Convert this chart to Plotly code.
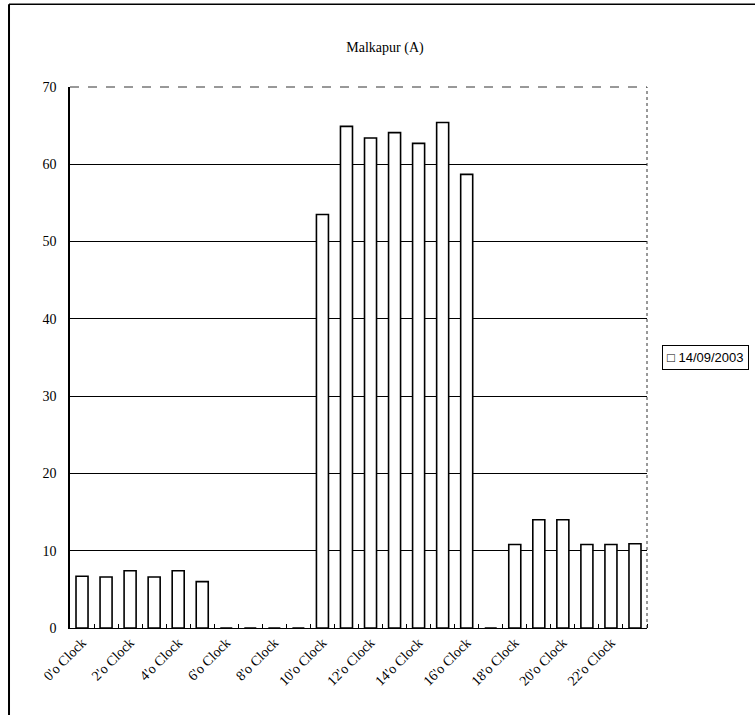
import plotly.graph_objects as go

# Hourly load readings for Malkapur (A), 14/09/2003
hours = [f"{h}'o Clock" for h in range(24)]
load_values = [6.7, 6.6, 7.4, 6.6, 7.4, 6.0,
               0, 0, 0, 0,
               53.5, 64.9, 63.4, 64.1, 62.7, 65.4, 58.7,
               0,
               10.8, 14.0, 14.0, 10.8, 10.8, 10.9]
series_name = "14/09/2003"
y_ticks = [0, 10, 20, 30, 40, 50, 60, 70]

idx = list(range(len(hours)))
label_idx = idx[::2]
label_text = [hours[i] for i in label_idx]

fig = go.Figure()
fig.add_trace(go.Bar(
    x=idx, y=load_values, name=series_name,
    marker=dict(color="white", line=dict(color="black", width=1.6)),
    showlegend=False,
))

serif = "Liberation Serif, Times New Roman, serif"

# plot-area frame: top and right edges drawn dashed, outer chart border on top/left
shapes = [
    dict(type="line", xref="x domain", yref="y domain", x0=0, x1=1, y0=1, y1=1,
         line=dict(color="#333", width=1, dash="dash")),
    dict(type="line", xref="x domain", yref="y domain", x0=1, x1=1, y0=0, y1=1,
         line=dict(color="#333", width=1, dash="dot")),
    dict(type="line", xref="paper", yref="paper", x0=-0.1057, x1=1.25, y0=1.153, y1=1.153,
         line=dict(color="black", width=1.5)),
    dict(type="line", xref="paper", yref="paper", x0=-0.1057, x1=-0.1057, y0=1.153, y1=-0.17,
         line=dict(color="black", width=2)),
]

# compact series key placed just right of the plot area
key = dict(
    text="\u25a1 " + series_name, showarrow=False,
    xref="paper", yref="paper", x=(662 - 70) / 577, y=(628 - 357) / 541,
    xanchor="left", yanchor="middle", align="left",
    font=dict(family="Liberation Sans, Arial, sans-serif", size=13, color="black"),
    bordercolor="black", borderwidth=1, borderpad=4, bgcolor="white",
)

fig.update_layout(
    width=755, height=715,
    margin=dict(l=70, r=108, t=87, b=87),
    paper_bgcolor="white", plot_bgcolor="white",
    bargap=0.5,
    title=dict(text="Malkapur (A)", x=385 / 755, xanchor="center",
               y=1 - 47 / 715, yanchor="middle",
               font=dict(family=serif, size=14, color="black")),
    xaxis=dict(
        range=[-0.5, 23.5], tickmode="array", tickvals=label_idx, ticktext=label_text,
        tickangle=-45, showgrid=False, zeroline=False,
        showline=True, linecolor="black", linewidth=1,
        ticks="", tickfont=dict(family=serif, size=14, color="black"),
        minor=dict(tickmode="array", tickvals=[i - 0.5 for i in range(1, 25)],
                   ticks="inside", ticklen=4, tickcolor="black", showgrid=False),
    ),
    yaxis=dict(
        range=[0, 70], tickmode="array", tickvals=y_ticks,
        showgrid=True, gridcolor="black", gridwidth=1,
        zeroline=False, showline=True, linecolor="black", linewidth=1.5,
        ticks="", ticklabelstandoff=9,
        tickfont=dict(family=serif, size=14, color="black"),
    ),
    annotations=[key],
    shapes=shapes,
)

fig.write_html("out.html")
